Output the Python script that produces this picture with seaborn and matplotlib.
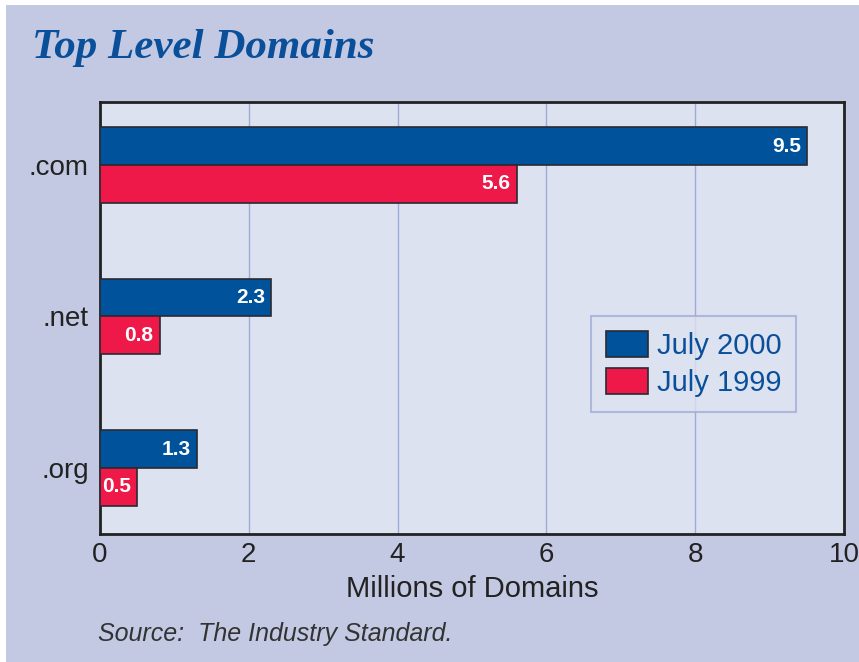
import matplotlib
matplotlib.use("Agg")
import matplotlib.pyplot as plt
from matplotlib.patches import Rectangle
import pandas as pd
import seaborn as sns

domains = [".com", ".net", ".org"]
july2000 = [9.5, 2.3, 1.3]
july1999 = [5.6, 0.8, 0.5]
series = ["July 2000", "July 1999"]
xticks = [0, 2, 4, 6, 8, 10]

blue = "#00529b"
red = "#ee1849"
outer_bg = "#c3c9e2"
plot_bg = "#dde2f0"
grid_col = "#9eabd6"
text_blue = "#0a4f9a"

df = pd.DataFrame({
    "domain": domains * 2,
    "value": july2000 + july1999,
    "period": [series[0]] * len(domains) + [series[1]] * len(domains),
})

sns.set_style("white")
plt.rcParams["font.family"] = ["Liberation Sans", "DejaVu Sans"]

fig = plt.figure(figsize=(8.59, 6.62), dpi=100, facecolor="white")
# outer tinted panel (thin white strip at top and left as in the scan)
fig.patches.append(Rectangle((6 / 859, 0), 1, 1 - 5 / 662, transform=fig.transFigure,
                             facecolor=outer_bg, edgecolor="none", zorder=-10))

ax = fig.add_axes([100 / 859, 1 - 534 / 662, 744 / 859, 432 / 662])
ax.set_facecolor(plot_bg)

sns.barplot(data=df, y="domain", x="value", hue="period", orient="h",
            palette=[blue, red], saturation=1, width=0.5,
            edgecolor="#2a2a33", linewidth=1.2, ax=ax, zorder=3)

ax.set_xlim(0, 10)
ax.set_ylim(2.436, -0.416)
ax.set_xticks(xticks)
ax.set_xticklabels([str(t) for t in xticks])
ax.xaxis.grid(True, color=grid_col, linewidth=1, zorder=0)
ax.set_axisbelow(True)
ax.tick_params(axis="both", length=0, labelsize=20, colors="#222222", pad=6)
ax.tick_params(axis="y", pad=8)
for s in ax.spines.values():
    s.set_color("#222222")
    s.set_linewidth(2)

ax.set_ylabel("")
ax.set_xlabel("Millions of Domains", fontsize=21, color="#222222", labelpad=5)

# value labels inside bar ends
for cont in ax.containers:
    for bar in cont:
        w = bar.get_width()
        ax.text(w - 0.08, bar.get_y() + bar.get_height() / 2, f"{w:.1f}",
                ha="right", va="center", color="white", fontsize=15,
                fontweight="bold", zorder=5)

leg = ax.legend(loc="upper left", bbox_to_anchor=(491 / 744, 1 - 214 / 432),
                frameon=True, fontsize=21, handlelength=1.45, handleheight=1.0,
                handletextpad=0.3, borderpad=0.5, labelspacing=0.3,
                borderaxespad=0, fancybox=False)
leg.get_frame().set_facecolor(plot_bg)
leg.get_frame().set_edgecolor("#a3aed6")
leg.get_frame().set_linewidth(1.5)
for t in leg.get_texts():
    t.set_color(text_blue)

fig.text(32 / 859, 1 - 58 / 662, "Top Level Domains", fontsize=31,
         family="Liberation Serif", fontweight="bold", style="italic",
         color=text_blue, ha="left", va="baseline")
fig.text(98 / 859, 1 - 641 / 662, "Source:  The Industry Standard.", fontsize=18,
         style="italic", color="#333333", ha="left", va="baseline")

fig.savefig("out.png", dpi=100, facecolor=fig.get_facecolor())
